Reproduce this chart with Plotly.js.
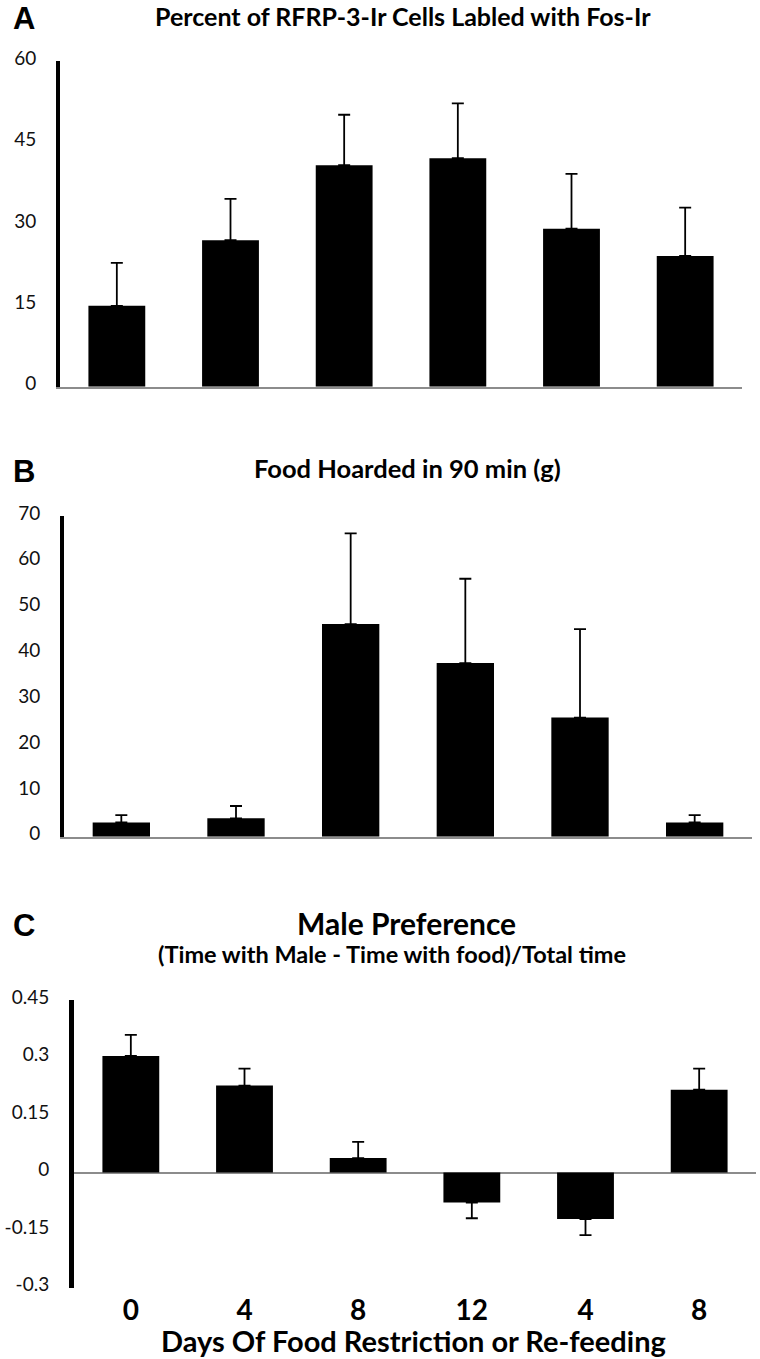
<!DOCTYPE html>
<html>
<head>
<meta charset="utf-8">
<script src="https://cdn.plot.ly/plotly-3.0.1.min.js"></script>
<style>html,body{margin:0;padding:0;background:#fff;}#chart{width:760px;height:1359px;}</style>
</head>
<body>
<div id="chart"></div>
<script>
// ---- data ----
const groupIndex = [0, 1, 2, 3, 4, 5];
const dayLabels = ["0", "4", "8", "12", "4", "8"];

const fosPercent = [14.9, 27.0, 40.8, 42.1, 29.1, 24.1];
const fosSEM = [7.9, 7.6, 9.3, 10.1, 10.1, 8.9];

const foodHoarded = [3.1, 4.0, 46.4, 37.9, 26.0, 3.1];
const foodSEM = [1.6, 2.7, 19.8, 18.4, 19.3, 1.6];

const malePref = [0.304, 0.227, 0.038, -0.078, -0.121, 0.216];
const malePrefSEM = [0.055, 0.044, 0.042, 0.041, 0.042, 0.055];

const ticksA = [0, 15, 30, 45, 60];
const ticksB = [0, 10, 20, 30, 40, 50, 60, 70];
const ticksC = [-0.3, -0.15, 0, 0.15, 0.3, 0.45];
const tickTextC = ["-0.3", "-0.15", "0", "0.15", "0.3", "0.45"];

// ---- helpers (layout only) ----
const W = 760, H = 1359;
const px = v => v / W;
const py = v => 1 - v / H;
const titleFont = "Lato, 'Open Sans', sans-serif";
const tickFont = {family: titleFont, size: 19, color: "#111"};

const errPlus = (vals, err) => vals.map((v, i) => v >= 0 ? err[i] : 0);
const errMinus = (vals, err) => vals.map((v, i) => v < 0 ? err[i] : 0);

function barTrace(vals, err, xa, ya) {
  return {
    type: "bar", x: groupIndex, y: vals, xaxis: xa, yaxis: ya,
    width: 0.5,
    marker: {color: "#000000", line: {width: 0}},
    error_y: {type: "data", symmetric: false, array: errPlus(vals, err), arrayminus: errMinus(vals, err),
              color: "#000000", thickness: 1.8, width: 6},
    showlegend: false, hoverinfo: "skip"
  };
}

const data = [
  barTrace(fosPercent, fosSEM, "x", "y"),
  barTrace(foodHoarded, foodSEM, "x2", "y2"),
  barTrace(malePref, malePrefSEM, "x3", "y3")
];

const baseX = {range: [-0.5, 5.5], showgrid: false, zeroline: false, fixedrange: true,
               tickmode: "array", tickvals: groupIndex, ticktext: dayLabels, ticks: ""};
const baseY = {showgrid: false, zeroline: false, showline: true, linecolor: "#000", linewidth: 4,
               ticks: "", tickmode: "array", tickfont: tickFont, ticklabelstandoff: 16, ticklabelshift: -3};

const layout = {
  width: W, height: H,
  margin: {l: 0, r: 0, t: 0, b: 0},
  paper_bgcolor: "#fff", plot_bgcolor: "rgba(0,0,0,0)",
  showlegend: false,
  xaxis: Object.assign({}, baseX, {domain: [px(60), px(742)], anchor: "y",
           showline: true, linecolor: "#8c8c8c", linewidth: 2, showticklabels: false}),
  yaxis: Object.assign({}, baseY, {domain: [py(386.7), py(61)], anchor: "x", range: [0, 60], tickvals: ticksA}),
  xaxis2: Object.assign({}, baseX, {domain: [px(64), px(752)], anchor: "y2",
           showline: true, linecolor: "#8c8c8c", linewidth: 2, showticklabels: false}),
  yaxis2: Object.assign({}, baseY, {domain: [py(836.7), py(516)], anchor: "x2", range: [0, 70], tickvals: ticksB}),
  xaxis3: Object.assign({}, baseX, {domain: [px(74), px(756)], anchor: "y3", showline: false,
           showticklabels: true, ticklabelstandoff: 3,
           tickfont: {family: titleFont, size: 28, color: "#000", weight: "bold"}}),
  yaxis3: Object.assign({}, baseY, {domain: [py(1287.7), py(1000)], anchor: "x3", range: [-0.3, 0.45],
           tickvals: ticksC, ticktext: tickTextC, linewidth: 5,
           zeroline: true, zerolinecolor: "#8c8c8c", zerolinewidth: 2}),
  annotations: [
    {text: "<b>A</b>", x: px(24), y: py(19), xref: "paper", yref: "paper", showarrow: false,
     xanchor: "center", yanchor: "middle", font: {family: "'Liberation Sans', Arial, sans-serif", size: 31, color: "#000"}},
    {text: "<b>Percent of RFRP-3-Ir Cells Labled with Fos-Ir</b>", x: px(403), y: py(16), xref: "paper", yref: "paper",
     showarrow: false, xanchor: "center", yanchor: "middle", font: {family: titleFont, size: 25, color: "#000"}},
    {text: "<b>B</b>", x: px(24), y: py(471), xref: "paper", yref: "paper", showarrow: false,
     xanchor: "center", yanchor: "middle", font: {family: "'Liberation Sans', Arial, sans-serif", size: 31, color: "#000"}},
    {text: "<b>Food Hoarded in 90 min (g)</b>", x: px(407), y: py(468), xref: "paper", yref: "paper",
     showarrow: false, xanchor: "center", yanchor: "middle", font: {family: titleFont, size: 25.5, color: "#000"}},
    {text: "<b>C</b>", x: px(24), y: py(925), xref: "paper", yref: "paper", showarrow: false,
     xanchor: "center", yanchor: "middle", font: {family: "'Liberation Sans', Arial, sans-serif", size: 31, color: "#000"}},
    {text: "<b>Male Preference</b>", x: px(406), y: py(923), xref: "paper", yref: "paper",
     showarrow: false, xanchor: "center", yanchor: "middle", font: {family: titleFont, size: 30, color: "#000"}},
    {text: "<b>(Time with Male - Time with food)/Total time</b>", x: px(392), y: py(954), xref: "paper", yref: "paper",
     showarrow: false, xanchor: "center", yanchor: "middle", font: {family: titleFont, size: 23.5, color: "#000"}},
    {text: "<b>Days Of Food Restriction or Re-feeding</b>", x: px(413), y: py(1340), xref: "paper", yref: "paper",
     showarrow: false, xanchor: "center", yanchor: "middle", font: {family: titleFont, size: 29, color: "#000"}}
  ]
};

Plotly.newPlot("chart", data, layout, {staticPlot: true, displayModeBar: false});
</script>
</body>
</html>
